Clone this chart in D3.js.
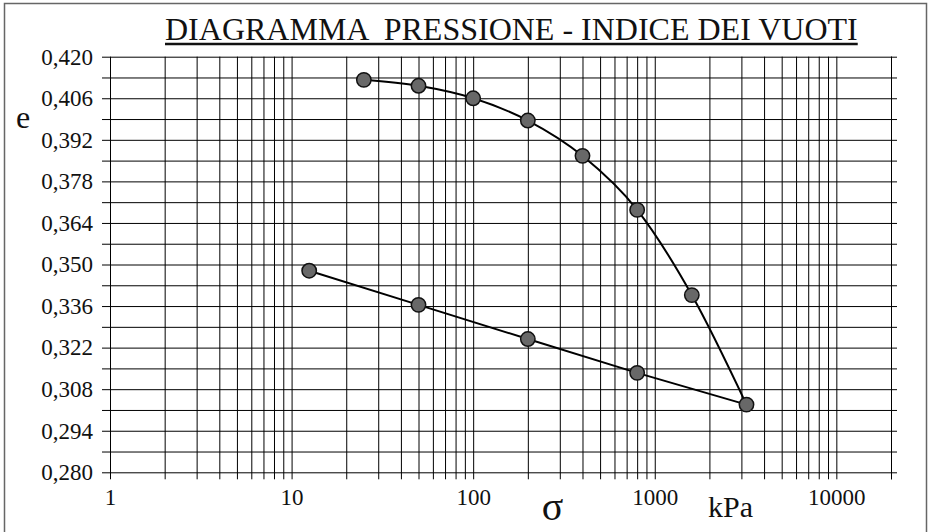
<!DOCTYPE html>
<html lang="it">
<head>
<meta charset="UTF-8">
<title>Diagramma pressione - indice dei vuoti</title>
<style>
    body { margin: 0; background: #fff; }
    svg text { font-family: "Liberation Serif", "Times New Roman", serif; fill: #111; }
</style>
</head>
<body>
<svg id="chart" width="929" height="532"></svg>

<script src="https://d3js.org/d3.v7.min.js"></script>
<script>
// data
const loadSigma = [25, 50, 100, 200, 400, 800, 1600, 3200];
const loadE = [0.4122, 0.4102, 0.4060, 0.3985, 0.3866, 0.3684, 0.3397, 0.3028];
const unloadSigma = [3200, 800, 200, 50, 12.5];
const unloadE = [0.3028, 0.3135, 0.3249, 0.3364, 0.3479];

const eLabels = [0.280, 0.294, 0.308, 0.322, 0.336, 0.350, 0.364, 0.378, 0.392, 0.406, 0.420];
const sigmaLabels = [1, 10, 100, 1000, 10000];

const serif = '"Liberation Serif", "Times New Roman", serif';
const svg = d3.select("#chart");

// plot area
const plotLeft = 110, plotTop = 56.7, plotBottom = 472.3, gridRight = 897;

const x = d3.scaleLog().domain([1, 20000]).range([plotLeft, 891]);
const y = d3.scaleLinear().domain([0.280, 0.420]).range([plotBottom, plotTop]);

const it = d3.formatLocale({ decimal: ",", thousands: ".", grouping: [3], currency: ["", "€"] });
const fmtE = it.format(".3f");

// outer frame
svg.append("rect")
    .attr("x", 4.5).attr("y", 3.5)
    .attr("width", 922).attr("height", 540)
    .attr("fill", "none")
    .attr("stroke", "#666")
    .attr("stroke-width", 1.5);

// horizontal grid every 0.007
const eGrid = d3.range(0, 21).map(i => +(0.280 + i * 0.007).toFixed(3));
const yAxis = svg.append("g")
    .attr("transform", `translate(${plotLeft},0)`)
    .call(d3.axisLeft(y)
        .tickValues(eGrid)
        .tickSize(8)
        .tickPadding(9)
        .tickFormat(d => eLabels.some(v => Math.abs(v - d) < 1e-6) ? fmtE(d) : ""));
yAxis.attr("font-family", null);
yAxis.select(".domain").remove();
yAxis.selectAll(".tick line")
    .attr("x1", gridRight - plotLeft)
    .attr("stroke", "#000")
    .attr("stroke-width", 1);
yAxis.selectAll(".tick text")
    .style("font-family", serif)
    .style("font-size", "23px")
    .attr("fill", "#111");

// vertical grid at 1..9 x 10^k
const sigmaGrid = [];
[1, 10, 100, 1000, 10000].forEach(p => {
    for (let m = 1; m <= 9; m++) {
        if (m * p <= 20000) sigmaGrid.push(m * p);
    }
});
sigmaGrid.push(20000);
const xAxis = svg.append("g")
    .attr("transform", `translate(0,${plotBottom})`)
    .call(d3.axisBottom(x)
        .tickValues(sigmaGrid)
        .tickSize(7)
        .tickPadding(9)
        .tickFormat(d => sigmaLabels.includes(d) ? String(d) : ""));
xAxis.attr("font-family", null);
xAxis.select(".domain").remove();
xAxis.selectAll(".tick line")
    .attr("y1", plotTop - plotBottom)
    .attr("stroke", "#000")
    .attr("stroke-width", 1);
xAxis.selectAll(".tick text")
    .style("font-family", serif)
    .style("font-size", "23px")
    .attr("fill", "#111");

// curves
const loadPts = loadSigma.map((s, i) => [s, loadE[i]]);
const unloadPts = unloadSigma.map((s, i) => [s, unloadE[i]]);

svg.append("path")
    .datum(loadPts)
    .attr("fill", "none")
    .attr("stroke", "#000")
    .attr("stroke-width", 2)
    .attr("d", d3.line().x(d => x(d[0])).y(d => y(d[1])).curve(d3.curveCatmullRom.alpha(0)));

svg.append("path")
    .datum(unloadPts)
    .attr("fill", "none")
    .attr("stroke", "#000")
    .attr("stroke-width", 2)
    .attr("d", d3.line().x(d => x(d[0])).y(d => y(d[1])));

svg.append("g")
    .selectAll("circle")
    .data(loadPts.concat(unloadPts.slice(1)))
    .enter().append("circle")
    .attr("cx", d => x(d[0]))
    .attr("cy", d => y(d[1]))
    .attr("r", 7.2)
    .attr("fill", "#686868")
    .attr("stroke", "#111")
    .attr("stroke-width", 1.5);

// title
const title = svg.append("text")
    .attr("x", 165)
    .attr("y", 39.5)
    .style("font-family", serif)
    .style("font-size", "32px")
    .style("white-space", "pre")
    .text("DIAGRAMMA  PRESSIONE - INDICE DEI VUOTI");
const tw = title.node().getComputedTextLength();
svg.append("line")
    .attr("x1", 165).attr("x2", 165 + tw)
    .attr("y1", 44).attr("y2", 44)
    .attr("stroke", "#111")
    .attr("stroke-width", 2.5);

// axis names
svg.append("text")
    .attr("x", 23).attr("y", 128)
    .attr("text-anchor", "middle")
    .style("font-family", serif)
    .style("font-size", "32px")
    .text("e");

svg.append("text")
    .attr("x", 552.5).attr("y", 520)
    .attr("text-anchor", "middle")
    .style("font-family", serif)
    .style("font-size", "40px")
    .text("σ");

svg.append("text")
    .attr("x", 708).attr("y", 517)
    .style("font-family", serif)
    .style("font-size", "30px")
    .text("kPa");
</script>
</body>
</html>
